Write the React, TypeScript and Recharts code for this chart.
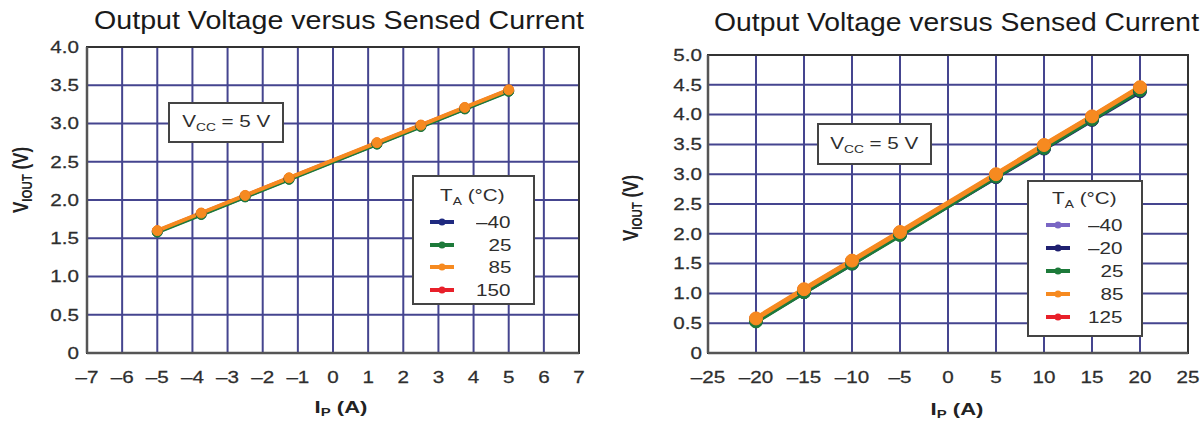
import React from "react";
import {CartesianGrid, Legend, Line, LineChart, ReferenceArea, XAxis, YAxis} from "recharts";

// left panel (±5 A part)
const leftCurrents = [-5, -3.75, -2.5, -1.25, 1.25, 2.5, 3.75, 5];
const leftTemps = ["\u201340", "25", "85", "150"];
const leftVoutM40 = [1.585, 1.815, 2.045, 2.275, 2.735, 2.965, 3.195, 3.425];
const leftVout25 = [1.58, 1.81, 2.04, 2.27, 2.73, 2.96, 3.19, 3.42];
const leftVout85 = [1.60, 1.83, 2.06, 2.29, 2.75, 2.98, 3.21, 3.44];
const leftVout150 = [1.595, 1.825, 2.055, 2.285, 2.745, 2.975, 3.205, 3.435];
const leftXTicks = [-7, -6, -5, -4, -3, -2, -1, 0, 1, 2, 3, 4, 5, 6, 7];
const leftYTicks = [0, 0.5, 1, 1.5, 2, 2.5, 3, 3.5, 4];

// right panel (±20 A part)
const rightCurrents = [-20, -15, -10, -5, 5, 10, 15, 20];
const rightTemps = ["\u201340", "\u201320", "25", "85", "125"];
const rightVoutM40 = [0.55, 1.03, 1.51, 1.99, 2.96, 3.44, 3.92, 4.41];
const rightVoutM20 = [0.54, 1.02, 1.50, 1.99, 2.95, 3.43, 3.91, 4.39];
const rightVout25 = [0.53, 1.02, 1.50, 1.98, 2.96, 3.44, 3.92, 4.41];
const rightVout85 = [0.58, 1.07, 1.55, 2.03, 3.00, 3.49, 3.97, 4.46];
const rightVout125 = [0.57, 1.06, 1.54, 2.02, 2.99, 3.48, 3.96, 4.45];
const rightXTicks = [-25, -20, -15, -10, -5, 0, 5, 10, 15, 20, 25];
const rightYTicks = [0, 0.5, 1, 1.5, 2, 2.5, 3, 3.5, 4, 4.5, 5];

const TITLE = "Output Voltage versus Sensed Current";
const FONT = "Arial, 'Liberation Sans', Helvetica, sans-serif";
const GRID = "#45458f";
const TEXT = "#2e2e2e";

interface Series {
    key: string
    name: string
    color: string
    values: number[]
}

// draw order: orange last so it sits on top like the scan
const leftSeries: Series[] = [
    {key: "t150", name: leftTemps[3], color: "#e8202a", values: leftVout150},
    {key: "tm40", name: leftTemps[0], color: "#1f2a80", values: leftVoutM40},
    {key: "t25", name: leftTemps[1], color: "#1d7a3a", values: leftVout25},
    {key: "t85", name: leftTemps[2], color: "#f68a20", values: leftVout85},
];

const rightSeries: Series[] = [
    {key: "t125", name: rightTemps[4], color: "#e8202a", values: rightVout125},
    {key: "tm40", name: rightTemps[0], color: "#7a66c4", values: rightVoutM40},
    {key: "tm20", name: rightTemps[1], color: "#1f2070", values: rightVoutM20},
    {key: "t25", name: rightTemps[2], color: "#1d7a3a", values: rightVout25},
    {key: "t85", name: rightTemps[3], color: "#f68a20", values: rightVout85},
];

const buildRows = (xs: number[], series: Series[]) =>
    xs.map((x, i) => {
        const row: any = {x};
        series.forEach(s => row[s.key] = s.values[i]);
        return row;
    });

const fmtX = (v: number) => (v < 0 ? "\u2013" + Math.abs(v) : String(v));
const fmtY = (v: number) => (v === 0 ? "0" : v.toFixed(1));

function StretchTick(props: any) {
    const {x, y, payload, textAnchor, fmt, dy} = props;
    return (
        <g transform={`translate(${x},${y})`}>
            <text
                transform="scale(1.25,1)"
                textAnchor={textAnchor}
                dy={dy}
                fontSize={16.5}
                fill={TEXT}
                stroke={TEXT}
                strokeWidth={0.25}
                fontFamily={FONT}
            >
                {fmt(payload.value)}
            </text>
        </g>
    );
}

const stretch = (origin: string): React.CSSProperties => ({
    display: "inline-block",
    transform: "scaleX(1.25)",
    transformOrigin: origin,
});

interface PanelProps {
    left: number
    series: Series[]
    temps: string[]
    xs: number[]
    xTicks: number[]
    yTicks: number[]
    margin: { top: number, right: number, bottom: number, left: number }
    yAxisWidth: number
    yTickMargin: number
    dotR: number
    lineW: number
    legendBox: { left: number, top: number, width: number, height: number, headerY: number, firstY: number, step: number, swatchX: number, textRight: number }
    vccBox: { left: number, top: number, width: number, height: number }
    titleX: number
    titleY: number
    titleLen: number
    yLabel: { cx: number, cy: number }
    xLabel: { cx: number, y: number }
}

function Panel(p: PanelProps) {
    const rows = buildRows(p.xs, p.series);
    const xDom = [p.xTicks[0], p.xTicks[p.xTicks.length - 1]];
    const yDom = [p.yTicks[0], p.yTicks[p.yTicks.length - 1]];
    const lb = p.legendBox;

    const renderLegend = (props: any) => {
        const items = [...(props.payload ?? [])].sort(
            (a: any, b: any) => p.temps.indexOf(a.value) - p.temps.indexOf(b.value)
        );
        return (
            <div
                style={{
                    position: "relative",
                    width: lb.width,
                    height: lb.height,
                    boxSizing: "border-box",
                    border: "2px solid #444",
                    background: "#fff",
                    fontFamily: FONT,
                    fontSize: 16.5,
                    color: TEXT,
                }}
            >
                <div style={{position: "absolute", right: lb.width - lb.textRight + 6, top: lb.headerY - 11, whiteSpace: "nowrap"}}>
                    <span style={stretch("right center")}>
                        T<sub style={{fontSize: 11, verticalAlign: "-4px"}}>A</sub> (°C)
                    </span>
                </div>
                {items.map((it: any, i: number) => (
                    <div key={it.value}>
                        <svg
                            width={26}
                            height={12}
                            style={{position: "absolute", left: lb.swatchX - 2, top: lb.firstY + i * lb.step - 6}}
                        >
                            <line x1={1} x2={25} y1={6} y2={6} stroke={it.color} strokeWidth={4}/>
                            <circle cx={13} cy={6} r={3.5} fill={it.color}/>
                        </svg>
                        <div
                            style={{
                                position: "absolute",
                                right: lb.width - lb.textRight,
                                top: lb.firstY + i * lb.step - 10,
                                lineHeight: "20px",
                                whiteSpace: "nowrap",
                            }}
                        >
                            <span style={stretch("right center")}>{it.value}</span>
                        </div>
                    </div>
                ))}
            </div>
        );
    };

    return (
        <div style={{position: "absolute", left: p.left, top: 0, width: 602, height: 421}}>
            <LineChart width={602} height={421} data={rows} margin={p.margin}>
                <CartesianGrid stroke={GRID} strokeWidth={2}/>
                <XAxis
                    dataKey="x"
                    type="number"
                    domain={xDom}
                    ticks={p.xTicks}
                    interval={0}
                    height={30}
                    tickSize={0}
                    tickMargin={18}
                    tickLine={false}
                    axisLine={{stroke: "#555", strokeWidth: 2.5}}
                    tick={(t: any) => <StretchTick {...t} fmt={fmtX} dy="0.71em"/>}
                />
                <YAxis
                    type="number"
                    domain={yDom}
                    ticks={p.yTicks}
                    interval={0}
                    width={p.yAxisWidth}
                    tickSize={0}
                    tickMargin={p.yTickMargin}
                    tickLine={false}
                    axisLine={{stroke: "#555", strokeWidth: 2.5}}
                    tick={(t: any) => <StretchTick {...t} fmt={fmtY} dy="0.355em"/>}
                />
                <ReferenceArea
                    x1={xDom[0]}
                    x2={xDom[1]}
                    y1={yDom[0]}
                    y2={yDom[1]}
                    fill="none"
                    stroke="#333"
                    strokeWidth={2}
                />
                {p.series.map(s => (
                    <Line
                        key={s.key}
                        dataKey={s.key}
                        name={s.name}
                        type="linear"
                        stroke={s.color}
                        strokeWidth={p.lineW}
                        dot={{r: p.dotR, fill: s.color, stroke: s.color, strokeWidth: 1}}
                        activeDot={false}
                        isAnimationActive={false}
                    />
                ))}
                <Legend
                    layout="vertical"
                    align="center"
                    verticalAlign="middle"
                    content={renderLegend}
                    wrapperStyle={{left: lb.left, top: lb.top, width: lb.width, height: lb.height}}
                />
            </LineChart>

            <svg
                width={602}
                height={421}
                style={{position: "absolute", left: 0, top: 0, pointerEvents: "none"}}
                fontFamily={FONT}
            >
                <text
                    x={p.titleX}
                    y={p.titleY}
                    fontSize={25}
                    fill="#1a1a1a"
                    textLength={p.titleLen}
                    lengthAdjust="spacingAndGlyphs"
                >
                    {TITLE}
                </text>
                <text
                    transform={`translate(${p.yLabel.cx},${p.yLabel.cy}) scale(1.3,1) rotate(-90)`}
                    textAnchor="middle"
                    dy="0.35em"
                    fontSize={17}
                    fontWeight="bold"
                    fill="#222"
                >
                    V<tspan fontSize={11.5} dy={3}>IOUT</tspan><tspan dy={-3}> (V)</tspan>
                </text>
                <text
                    transform={`translate(${p.xLabel.cx},${p.xLabel.y}) scale(1.3,1)`}
                    textAnchor="middle"
                    fontSize={17}
                    fontWeight="bold"
                    fill="#222"
                >
                    I<tspan fontSize={11.5} dy={3}>P</tspan><tspan dy={-3}> (A)</tspan>
                </text>
            </svg>

            <div
                style={{
                    position: "absolute",
                    left: p.vccBox.left,
                    top: p.vccBox.top,
                    width: p.vccBox.width,
                    height: p.vccBox.height,
                    boxSizing: "border-box",
                    border: "2px solid #444",
                    background: "#fff",
                    display: "flex",
                    alignItems: "center",
                    justifyContent: "center",
                    fontFamily: FONT,
                    fontSize: 16.5,
                    color: TEXT,
                }}
            >
                <span style={stretch("center center")}>
                    V<sub style={{fontSize: 11, verticalAlign: "-4px"}}>CC</sub> = 5 V
                </span>
            </div>
        </div>
    );
}

export default function App() {
    return (
        <div style={{position: "absolute", left: 0, top: 0, width: 1204, height: 421, background: "#fff", overflow: "hidden"}}>
            <Panel
                left={0}
                series={leftSeries}
                temps={leftTemps}
                xs={leftCurrents}
                xTicks={leftXTicks}
                yTicks={leftYTicks}
                margin={{top: 47, right: 23, bottom: 38, left: 0}}
                yAxisWidth={87}
                yTickMargin={8}
                dotR={5}
                lineW={4}
                legendBox={{left: 412, top: 175, width: 123, height: 130, headerY: 20, firstY: 45, step: 22.5, swatchX: 17, textRight: 101}}
                vccBox={{left: 168, top: 102, width: 116, height: 41}}
                titleX={94}
                titleY={29}
                titleLen={490}
                yLabel={{cx: 20, cy: 180}}
                xLabel={{cx: 341, y: 413}}
            />
            <Panel
                left={602}
                series={rightSeries}
                temps={rightTemps}
                xs={rightCurrents}
                xTicks={rightXTicks}
                yTicks={rightYTicks}
                margin={{top: 55, right: 16, bottom: 38, left: 0}}
                yAxisWidth={106}
                yTickMargin={6}
                dotR={6.5}
                lineW={5}
                legendBox={{left: 425, top: 180, width: 116, height: 157, headerY: 18, firstY: 43, step: 23, swatchX: 18, textRight: 98}}
                vccBox={{left: 215, top: 123, width: 115, height: 42}}
                titleX={112}
                titleY={31}
                titleLen={485}
                yLabel={{cx: 28, cy: 208}}
                xLabel={{cx: 355, y: 415}}
            />
        </div>
    );
}
